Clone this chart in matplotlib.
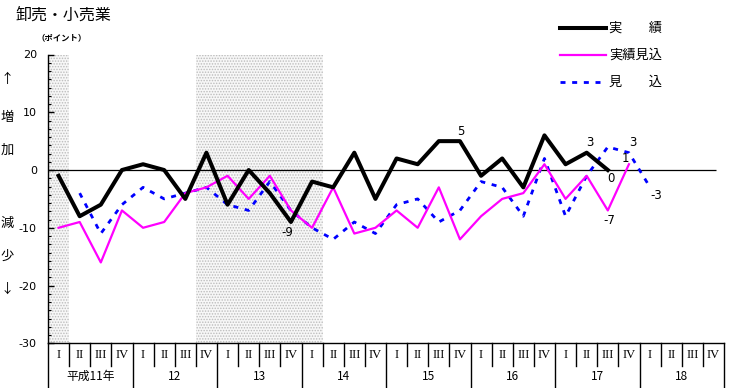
import numpy as np
import matplotlib
matplotlib.use('Agg')
import matplotlib.pyplot as plt
from matplotlib.lines import Line2D
from matplotlib.transforms import blended_transform_factory
from matplotlib.ticker import MultipleLocator, AutoMinorLocator

plt.rcParams['font.family'] = ['Noto Sans CJK JP', 'DejaVu Sans']
plt.rcParams['hatch.linewidth'] = 0.7
plt.rcParams['axes.unicode_minus'] = False

nan = np.nan
quarter_labels = ['I', 'II', 'III', 'IV']
year_labels = ['平成11年', '12', '13', '14', '15', '16', '17', '18']
actual = [-1, -8, -6, 0, 1, 0, -5, 3, -6, 0, -4, -9, -2, -3, 3, -5, 2, 1, 5, 5,
          -1, 2, -3, 6, 1, 3, 0]
actual_est = [-10, -9, -16, -7, -10, -9, -4, -3, -1, -5, -1, -7, -10, -3, -11, -10,
              -7, -10, -3, -12, -8, -5, -4, 1, -5, -1, -7, 1]
forecast = [nan, -4, -11, -6, -3, -5, -4, -3, -6, -7, -2, -7, -10, -12, -9, -11,
            -6, -5, -9, -7, -2, -3, -8, 2, -8, -1, 4, 3, -3]
shaded_spans = [(0, 0), (7, 12)]  # quarter index ranges (inclusive)
legend_labels = ['実\u3000\u3000績', '実績見込', '見\u3000\u3000込']

W, H = 730, 388
fig = plt.figure(figsize=(W / 100, H / 100), dpi=100)
L, R, T, B = 48, 724, 54.5, 343.3
ax = fig.add_axes([L / W, 1 - B / H, (R - L) / W, (B - T) / H])

nq = len(quarter_labels) * len(year_labels)
ax.set_xlim(-0.5, nq - 0.5)
ax.set_ylim(-30, 20)

for a, b in shaded_spans:
    ax.axvspan(a - 0.5, b + 0.5, facecolor='#f7f7f7', edgecolor='#bcbcbc',
               hatch='......', linewidth=0, zorder=0)

ax.hlines(0, -0.5, 31.1, color='black', lw=0.9, zorder=1)

xa = np.arange(len(actual))
xe = np.arange(len(actual_est))
xf = np.arange(len(forecast))
ax.plot(xf, forecast, color='#0000FF', lw=2.0, dashes=(1.8, 2.4), zorder=2)
ax.plot(xe, actual_est, color='#FF00FF', lw=1.6, zorder=3)
ax.plot(xa, actual, color='black', lw=2.9, zorder=4)

# value annotations
def ann(text, x, y, dx, dy):
    ax.annotate(text, (x, y), xytext=(dx, -dy), textcoords='offset pixels',
                ha='center', va='center', fontsize=8.5, family='DejaVu Sans')

ann('-9', 11, actual[11], -4, 10)
ann('5', 19, actual[19], 1, -10)
ann('3', 25, actual[25], 3, -10)
ann('0', 26, actual[26], 3, 8)
ann('-7', 26, actual_est[26], 2, 10)
ann('1', 27, actual_est[27], -4, -6)
ann('3', 27, forecast[27], 4, -10)
ann('-3', 28, forecast[28], 6, 8)

# spines / ticks
for s in ['top', 'right']:
    ax.spines[s].set_visible(False)
ax.spines['left'].set_linewidth(1.0)
ax.spines['bottom'].set_linewidth(1.0)
ax.set_xticks([])
ax.yaxis.set_major_locator(MultipleLocator(10))
ax.yaxis.set_minor_locator(AutoMinorLocator(7))
ax.tick_params(axis='y', which='major', direction='in', length=4, width=1,
               pad=8, labelsize=8)
ax.tick_params(axis='y', which='minor', direction='in', length=2, width=0.8)
for lab in ax.get_yticklabels():
    lab.set_family('DejaVu Sans')

# x-axis category boxes
tr = blended_transform_factory(ax.transData, fig.transFigure)
def fy(py):
    return 1 - py / H
for i in range(nq + 1):
    xb = i - 0.5
    bottom = H if i % 4 == 0 else 366
    ax.add_line(Line2D([xb, xb], [fy(B), fy(bottom)], transform=tr, color='black',
                       lw=1.0, clip_on=False))
for i in range(nq):
    ax.text(i, fy(355), quarter_labels[i % 4], transform=tr, ha='center',
            va='center', fontsize=9, family='Liberation Serif')
for j, yl in enumerate(year_labels):
    ax.text(4 * j + 1.5, fy(376), yl, transform=tr, ha='center', va='center',
            fontsize=8.5)

# titles and side labels
fig.text(15 / W, fy(15), '卸売・小売業', fontsize=11.5, ha='left', va='center')
fig.text(37 / W, fy(38), '（ポイント）', fontsize=6, ha='left', va='center',
         fontweight='bold')
for txt, py in [('↑', 80), ('増', 117), ('加', 150), ('減', 223), ('少', 256), ('↓', 289)]:
    fig.text(7 / W, fy(py), txt, fontsize=9.5, ha='center', va='center')

# legend
leg_styles = [dict(color='black', lw=2.9),
              dict(color='#FF00FF', lw=1.6),
              dict(color='#0000FF', lw=2.0, dashes=(1.8, 2.4))]
for k, (lab, st) in enumerate(zip(legend_labels, leg_styles)):
    py = 28 + 27 * k
    fig.add_artist(Line2D([560 / W, 606 / W], [fy(py), fy(py)], **st))
    fig.text(609 / W, fy(py), lab, fontsize=9.5, ha='left', va='center')

fig.savefig('out.png', dpi=100)
